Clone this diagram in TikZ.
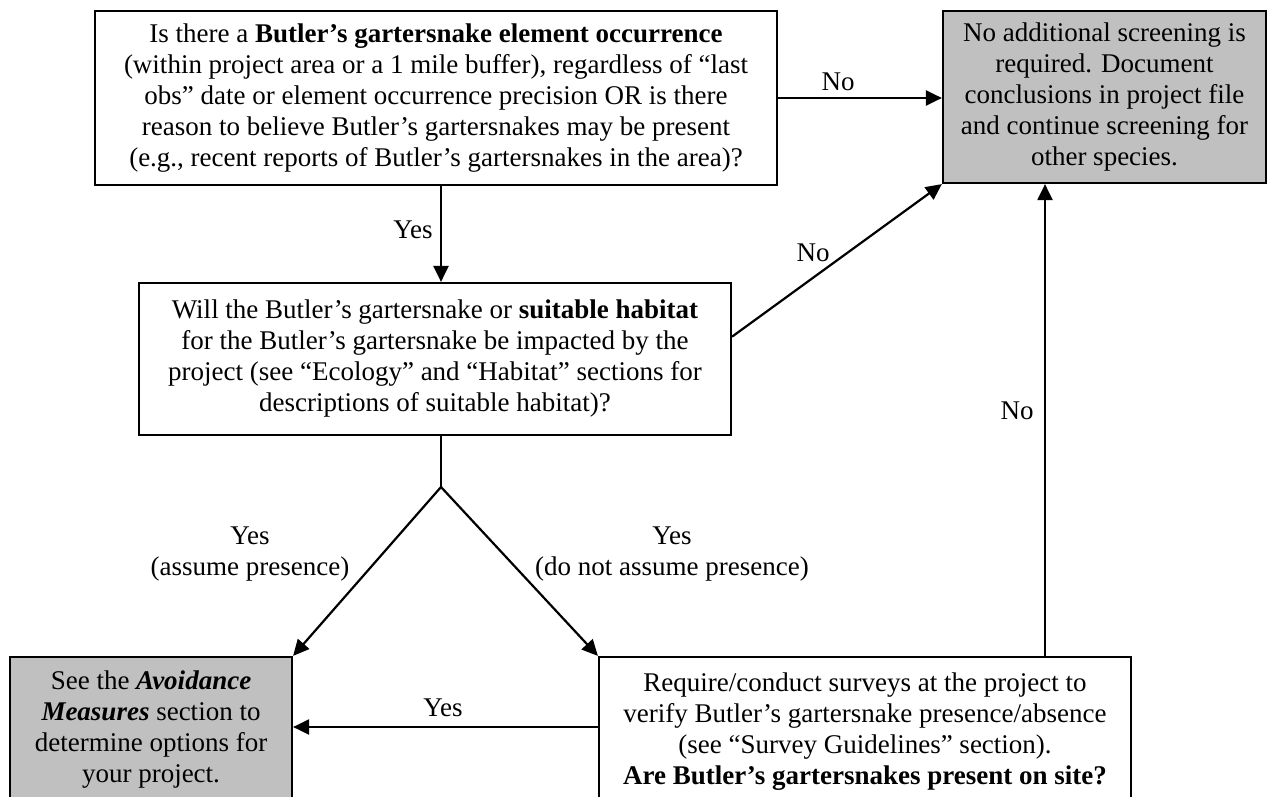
\documentclass[tikz,border=0pt]{standalone}
\usepackage{fontspec}
\setmainfont{Liberation Serif}
\usetikzlibrary{arrows.meta,calc}
\definecolor{boxgray}{RGB}{192,192,192}
\begin{document}
\begin{tikzpicture}[x=0.5pt,y=-0.5pt,
  txt/.style={font=\fontsize{13.5}{15.5}\selectfont},
  box/.style={txt, draw, line width=1.1pt, inner sep=0pt, align=center},
  graybox/.style={box, fill=boxgray},
  lbl/.style={txt, inner sep=0pt, align=center},
  arr/.style={line width=1.1pt, -{Triangle[length=8pt,width=7.5pt]}},
  ln/.style={line width=1.1pt}]
\useasboundingbox (0,0) rectangle (1269,797);
\clip (0,0) rectangle (1269,797);

\node[box, minimum width=341pt, minimum height=87pt] (q1) at (436,98)
  {Is there a \textbf{Butler’s gartersnake element occurrence}\\
   (within project area or a 1 mile buffer), regardless of “last\\
   obs” date or element occurrence precision OR is there\\
   reason to believe Butler’s gartersnakes may be present\\
   (e.g., recent reports of Butler’s gartersnakes in the area)?};

\node[graybox, minimum width=161.5pt, minimum height=86pt] (end) at (1104.5,97)
  {No additional screening is\\ required. Document\\ conclusions in project file\\ and continue screening for\\ other species.};

\node[box, minimum width=296pt, minimum height=76pt] (q2) at (435,359)
  {Will the Butler’s gartersnake or \textbf{suitable habitat}\\
   for the Butler’s gartersnake be impacted by the\\
   project (see “Ecology” and “Habitat” sections for\\
   descriptions of suitable habitat)?};

\node[graybox, minimum width=141pt, minimum height=72.5pt] (avoid) at (151,729.5)
  {See the \textbf{\textit{Avoidance}}\\ \textbf{\textit{Measures}} section to\\ determine options for\\ your project.};

\node[box, minimum width=266pt, minimum height=74.5pt] (survey) at (865,731.5)
  {Require/conduct surveys at the project to\\
   verify Butler’s gartersnake presence/absence\\
   (see “Survey Guidelines” section).\\
   \textbf{Are Butler’s gartersnakes present on site?}};

\coordinate (yesx) at (441,0);
\coordinate (apex) at (441,487);
\coordinate (vx) at (1045,0);
\coordinate (hy) at (0,727);

\draw[arr] (q1.east) -- (q1.east -| end.west);
\draw[arr] (q1.south -| yesx) -- (q2.north -| yesx);
\draw[arr] ($(q2.north east)!0.355!(q2.south east)$) -- (end.south west);
\draw[ln] (q2.south -| yesx) -- (apex);
\draw[arr] (apex) -- (avoid.north east);
\draw[arr] (apex) -- (survey.north west);
\draw[arr] (survey.west |- hy) -- (avoid.east |- hy);
\draw[arr] (survey.north -| vx) -- (end.south -| vx);

\node[lbl] (lno1) at (838,82) {No};
\node[lbl] (lyes1) at (413,230) {Yes};
\node[lbl] (lno2) at (813,253) {No};
\node[lbl] (lno3) at (1017,411) {No};
\node[lbl] (lyes2) at (250,554) {Yes\\(assume presence)};
\node[lbl] (lyes3) at (672,554) {Yes\\(do not assume presence)};
\node[lbl] (lyes4) at (443,708) {Yes};
\end{tikzpicture}
\end{document}
